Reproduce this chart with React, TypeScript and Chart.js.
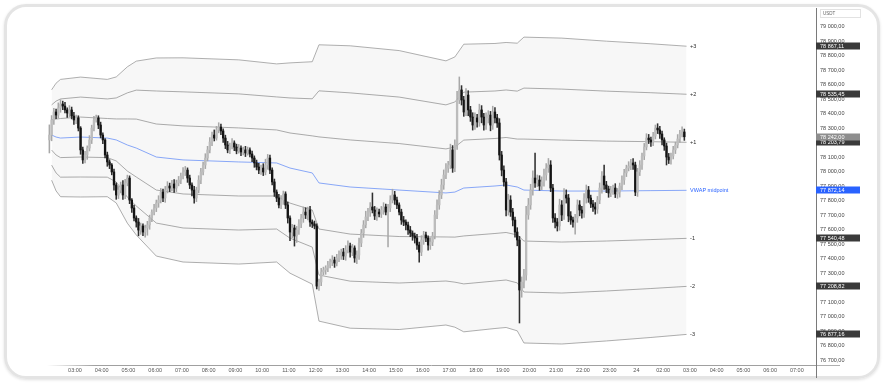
import React, { useEffect, useRef } from 'react';
import { Chart, registerables } from 'chart.js';

Chart.register(...registerables);

// 5-minute candles, starting at 02:00
const firstOpen = 78220;
const closes = [
  78254, 78358, 78413, 78392, 78441, 78468, 78454, 78427, 78406, 78427, 78385, 78358,
  78372, 78302, 78151, 78082, 78116, 78164, 78220, 78302, 78358, 78372, 78323, 78254,
  78220, 78116, 78068, 78047, 77999, 77909, 77840, 77874, 77909, 77840, 77923, 77957,
  77805, 77750, 77681, 77653, 77598, 77626, 77584, 77612, 77633, 77681, 77722, 77750,
  77785, 77805, 77860, 77819, 77874, 77902, 77888, 77916, 77888, 77923, 77943, 77971,
  77999, 78012, 77957, 77909, 77874, 77819, 77874, 77943, 77999, 78047, 78095, 78151,
  78206, 78254, 78233, 78289, 78309, 78282, 78233, 78185, 78151, 78178, 78199, 78171,
  78144, 78164, 78137, 78151, 78130, 78151, 78123, 78095, 78061, 78033, 78012, 78026,
  77999, 78047, 78095, 78012, 77930, 77860, 77819, 77771, 77805, 77847, 77771, 77681,
  77584, 77612, 77557, 77598, 77640, 77681, 77722, 77702, 77736, 77653, 77640, 77626,
  77211, 77239, 77308, 77322, 77336, 77356, 77377, 77391, 77370, 77405, 77425, 77446,
  77419, 77460, 77488, 77446, 77474, 77405, 77425, 77508, 77577, 77633, 77688, 77722,
  77757, 77736, 77695, 77722, 77709, 77736, 77757, 77722, 77750, 77805, 77840, 77805,
  77771, 77722, 77667, 77653, 77633, 77598, 77577, 77557, 77543, 77494, 77446, 77529,
  77564, 77543, 77494, 77515, 77557, 77702, 77771, 77840, 77909, 77978, 78026, 78047,
  78151, 78026, 78185, 78496, 78565, 78496, 78413, 78530, 78427, 78378, 78323, 78372,
  78344, 78427, 78378, 78323, 78372, 78392, 78323, 78413, 78372, 78337, 78116, 78012,
  77930, 77736, 77805, 77722, 77667, 77584, 77529, 77184, 77239, 77287, 77702, 77771,
  77874, 77957, 77923, 77943, 77902, 77930, 77978, 78026, 78047, 77888, 77681, 77653,
  77626, 77771, 77702, 77840, 77819, 77695, 77667, 77653, 77681, 77771, 77736, 77715,
  77819, 77874, 77819, 77778, 77757, 77743, 77805, 77888, 77971, 77909, 77881, 77854,
  77874, 77888, 77847, 77860, 77902, 77943, 77992, 78026, 78040, 78061, 78047, 77860,
  77999, 78047, 78109, 78171, 78233, 78220, 78206, 78247, 78302, 78289, 78261, 78220,
  78178, 78102, 78082, 78109, 78151, 78185, 78227, 78261, 78275, 78242,
];
const upperWick = [
  70, 30, 25, 20, 35, 30, 20, 25, 15, 30, 20, 25,
  20, 15, 10, 20, 25, 15, 30, 20, 25, 20, 15, 20,
  15, 10, 20, 15, 10, 20, 15, 25, 20, 30, 25, 20,
  15, 10, 20, 15, 25, 20, 15, 20, 25, 20, 15, 25,
  20, 30, 25, 20, 25, 30, 20, 25, 30, 20, 25, 20,
  30, 25, 15, 20, 15, 25, 20, 30, 25, 20, 30, 25,
  30, 20, 35, 25, 30, 20, 15, 20, 25, 20, 30, 15,
  20, 25, 15, 20, 25, 20, 15, 20, 15, 20, 25, 20,
  30, 40, 25, 20, 15, 20, 15, 25, 30, 20, 15, 20,
  15, 25, 20, 25, 30, 25, 35, 30, 20, 25, 15, 20,
  15, 20, 25, 20, 15, 25, 20, 30, 20, 25, 30, 20,
  25, 30, 35, 20, 25, 15, 30, 35, 25, 30, 40, 25,
  30, 97, 25, 30, 20, 25, 30, 20, 25, 30, 40, 25,
  20, 15, 20, 25, 15, 20, 25, 15, 20, 25, 20, 30,
  25, 20, 15, 30, 25, 30, 35, 30, 40, 35, 30, 25,
  40, 30, 35, 60, 90, 30, 25, 45, 30, 25, 30, 35,
  25, 40, 30, 25, 35, 30, 25, 40, 30, 25, 30, 25,
  30, 25, 40, 30, 25, 20, 30, 25, 35, 40, 60, 45,
  40, 50, 173, 35, 30, 35, 40, 30, 45, 30, 25, 30,
  25, 40, 30, 45, 35, 25, 30, 20, 25, 35, 30, 25,
  30, 35, 25, 20, 25, 30, 25, 35, 30, 76, 25, 20,
  25, 20, 30, 25, 20, 30, 25, 20, 30, 25, 30, 20,
  25, 30, 20, 25, 30, 25, 20, 25, 21, 30, 25, 20,
  15, 20, 25, 20, 25, 20, 30, 25, 35, 20,
];
const lowerWick = [
  90, 40, 30, 25, 20, 30, 25, 20, 30, 25, 20, 30,
  25, 20, 30, 25, 20, 30, 20, 25, 20, 15, 25, 20,
  25, 20, 30, 25, 20, 35, 30, 25, 20, 30, 25, 20,
  25, 30, 20, 35, 40, 30, 25, 35, 50, 30, 25, 20,
  25, 30, 20, 25, 30, 20, 25, 20, 30, 25, 20, 25,
  20, 25, 30, 25, 40, 35, 25, 20, 25, 20, 25, 20,
  20, 25, 20, 15, 20, 25, 30, 25, 20, 25, 20, 25,
  20, 15, 25, 20, 25, 15, 20, 25, 30, 20, 25, 30,
  25, 20, 30, 25, 20, 30, 25, 20, 25, 30, 25, 35,
  60, 40, 70, 45, 30, 25, 30, 25, 35, 30, 25, 20,
  20, 30, 25, 20, 30, 25, 20, 25, 30, 20, 25, 30,
  25, 30, 20, 35, 25, 30, 40, 30, 25, 30, 20, 25,
  30, 20, 25, 30, 20, 25, 30, 20, 240, 25, 20, 30,
  25, 20, 30, 25, 35, 30, 25, 30, 35, 30, 70, 25,
  30, 25, 35, 30, 25, 20, 25, 30, 25, 30, 25, 30,
  25, 30, 25, 30, 25, 35, 30, 25, 40, 30, 35, 30,
  35, 30, 40, 35, 30, 35, 40, 30, 35, 30, 35, 40,
  30, 40, 35, 30, 40, 35, 40, 228, 50, 40, 35, 30,
  30, 35, 30, 25, 30, 25, 30, 35, 30, 25, 30, 40,
  35, 30, 40, 30, 35, 40, 30, 35, 83, 30, 40, 35,
  30, 35, 30, 25, 30, 35, 30, 25, 35, 30, 25, 30,
  25, 30, 25, 30, 35, 25, 30, 25, 20, 25, 30, 25,
  30, 25, 30, 25, 20, 25, 30, 25, 20, 25, 30, 35,
  30, 55, 25, 30, 20, 25, 20, 25, 20, 25,
];

// Anchored VWAP and standard deviation, read at candle indices
const bandIdx = [1, 3, 5, 14, 26, 30, 35, 39, 48, 60, 85, 102, 108, 118, 121, 135, 157, 178, 182, 186, 200, 205, 210, 213, 230, 250, 270, 286];
const vwapVals = [78254, 78240, 78233, 78240, 78233, 78220, 78185, 78164, 78102, 78082, 78068, 78061, 78026, 77992, 77923, 77895, 77874, 77854, 77860, 77888, 77902, 77909, 77895, 77874, 77867, 77867, 77870, 77872.14];
const sdVals = [104, 124, 135, 138, 135, 145, 180, 200, 228, 235, 235, 228, 242, 256, 318, 325, 321, 304, 311, 331, 328, 328, 331, 352, 352, 345, 338, 331.66];
const bandLevels = [3, 2, 1, 0, -1, -2, -3];
const bandNames = ['+3', '+2', '+1', 'VWAP midpoint', '-1', '-2', '-3'];
const bandEndValues = [78867.11, 78535.45, 78203.79, 77872.14, 77540.48, 77208.82, 76877.16];
const lastPrice = 78242.0;

const hourLabels = [
  '03:00', '04:00', '05:00', '06:00', '07:00', '08:00', '09:00', '10:00', '11:00', '12:00',
  '13:00', '14:00', '15:00', '16:00', '17:00', '18:00', '19:00', '20:00', '21:00', '22:00',
  '23:00', '24', '02:00', '03:00', '04:00', '05:00', '06:00', '07:00',
];

const FONT = '"Liberation Sans", Arial, sans-serif';

function fmt(v: number): string {
  const [i, d] = v.toFixed(2).split('.');
  return i.replace(/\B(?=(\d{3})+(?!\d))/g, ' ') + ',' + d;
}

export default function App() {
  const ref = useRef<HTMLCanvasElement | null>(null);

  useEffect(() => {
    if (!ref.current) return;
    const opens = closes.map((c, i) => (i === 0 ? firstOpen : closes[i - 1]));
    const isUp = closes.map((c, i) => c >= opens[i]);
    const wickData = closes.map((c, i) => ({
      x: i + 0.5,
      y: [Math.min(opens[i], c) - lowerWick[i], Math.max(opens[i], c) + upperWick[i]],
    }));
    const bodyData = closes.map((c, i) => ({ x: i + 0.5, y: [opens[i], c] }));

    const bandSets = bandLevels.map((k, j) => ({
      type: 'line' as const,
      label: bandNames[j],
      data: bandIdx.map((idx, m) => ({ x: idx + 0.5, y: vwapVals[m] + k * sdVals[m] })),
      borderColor: k === 0 ? '#6f97ff' : '#9b9b9b',
      borderWidth: 0.8,
      pointRadius: 0,
      tension: 0,
      order: 5,
      fill: j === 0 ? { target: 8 } : false,
      backgroundColor: 'rgba(0,0,0,0.032)',
    }));

    const overlay = {
      id: 'overlay',
      afterDraw(chart: any) {
        const ctx = chart.ctx;
        const xs = chart.scales.x;
        const ys = chart.scales.y;
        ctx.save();
        // x axis line with fade
        const g = ctx.createLinearGradient(47, 0, 95, 0);
        g.addColorStop(0, 'rgba(160,160,160,0)');
        g.addColorStop(1, 'rgba(160,160,160,1)');
        ctx.strokeStyle = g;
        ctx.lineWidth = 1;
        ctx.beginPath();
        ctx.moveTo(47, 365.5);
        ctx.lineTo(816, 365.5);
        ctx.stroke();
        ctx.strokeStyle = '#b0b0b0';
        ctx.beginPath();
        ctx.moveTo(816, 365.5);
        ctx.lineTo(840, 365.5);
        ctx.stroke();
        // y axis line
        ctx.strokeStyle = '#7a7a7a';
        ctx.beginPath();
        ctx.moveTo(816.5, 8);
        ctx.lineTo(816.5, 378);
        ctx.stroke();

        // band labels
        const lx = xs.getPixelForValue(bandIdx[bandIdx.length - 1] + 0.5) + 3.5;
        ctx.font = `5.5px ${FONT}`;
        ctx.textBaseline = 'middle';
        ctx.textAlign = 'left';
        bandLevels.forEach((k, j) => {
          const last = vwapVals[vwapVals.length - 1] + k * sdVals[sdVals.length - 1];
          const py = ys.getPixelForValue(last);
          ctx.fillStyle = k === 0 ? '#2962ff' : '#2a2a2a';
          ctx.fillText(bandNames[j], lx, py);
        });

        // price boxes on axis
        const boxes: { v: number; c: string }[] = bandEndValues.map((v, j) => ({
          v,
          c: bandLevels[j] === 0 ? '#2962ff' : '#3a3a3a',
        }));
        boxes.push({ v: lastPrice, c: '#8e8e8e' });
        ctx.font = `5.5px ${FONT}`;
        boxes.forEach((b) => {
          const py = ys.getPixelForValue(b.v);
          ctx.fillStyle = b.c;
          ctx.fillRect(816, Math.round(py) - 3.5, 44, 7);
          ctx.fillStyle = '#ffffff';
          ctx.fillText(fmt(b.v), 820, Math.round(py));
        });

        // currency box
        ctx.strokeStyle = '#e2e2e2';
        ctx.strokeRect(820.5, 9.5, 40, 8);
        ctx.fillStyle = '#666';
        ctx.font = `4.5px ${FONT}`;
        ctx.fillText('USDT', 823, 13.5);
        ctx.restore();
      },
    };

    const chart = new Chart(ref.current, {
      type: 'bar',
      data: {
        datasets: [
          {
            type: 'bar',
            label: 'wick',
            data: wickData as any,
            backgroundColor: isUp.map((u) => (u ? '#a8a8a8' : '#303030')),
            barThickness: 0.9,
            grouped: false,
            order: 1,
          },
          {
            type: 'bar',
            label: 'body',
            data: bodyData as any,
            backgroundColor: isUp.map((u) => (u ? '#bcbcbc' : '#141414')),
            barThickness: 1.7,
            minBarLength: 1,
            grouped: false,
            order: 0,
          },
          ...(bandSets as any),
        ],
      },
      options: {
        responsive: false,
        animation: false,
        devicePixelRatio: 1,
        layout: { padding: { left: 47, top: 8, right: 0, bottom: 0 } },
        plugins: { legend: { display: false }, tooltip: { enabled: false } },
        scales: {
          x: {
            type: 'linear',
            min: -0.57,
            max: 344.6,
            offset: false,
            grid: { display: false, drawTicks: false },
            border: { display: false },
            afterBuildTicks: (s: any) => {
              s.ticks = hourLabels.map((_, k) => ({ value: 12 * (k + 1) }));
            },
            afterFit: (s: any) => {
              s.height = 18;
            },
            ticks: {
              autoSkip: false,
              maxRotation: 0,
              padding: 2,
              color: '#555',
              font: { size: 5.5, family: FONT },
              callback: (v: any) => {
                const k = Math.round(Number(v) / 12) - 1;
                return hourLabels[k] ?? '';
              },
            },
          },
          y: {
            type: 'linear',
            position: 'right',
            min: 76666,
            max: 79131,
            grid: { display: false, drawTicks: false },
            border: { display: false },
            afterBuildTicks: (s: any) => {
              s.ticks = s.ticks.filter((t: any) => t.value <= 79000 && t.value >= 76700);
            },
            afterFit: (s: any) => {
              s.width = 68;
            },
            ticks: {
              stepSize: 100,
              includeBounds: false,
              padding: 4,
              color: '#444',
              font: { size: 5.5, family: FONT },
              callback: (v: any) => fmt(Number(v)),
            },
          },
        },
      },
      plugins: [overlay],
    });
    return () => chart.destroy();
  }, []);

  return (
    <div style={{ position: 'fixed', left: 0, top: 0, width: 884, height: 383, background: '#fff' }}>
      <div
        style={{
          position: 'absolute',
          left: 4,
          top: 4,
          width: 876,
          height: 375,
          boxSizing: 'border-box',
          border: '3px solid #e4e4e4',
          borderRadius: 22,
          boxShadow: '0 1px 3px rgba(0,0,0,0.12)',
        }}
      />
      <canvas
        ref={ref}
        width={884}
        height={383}
        style={{ position: 'absolute', left: 0, top: 0, width: 884, height: 383 }}
      />
    </div>
  );
}
